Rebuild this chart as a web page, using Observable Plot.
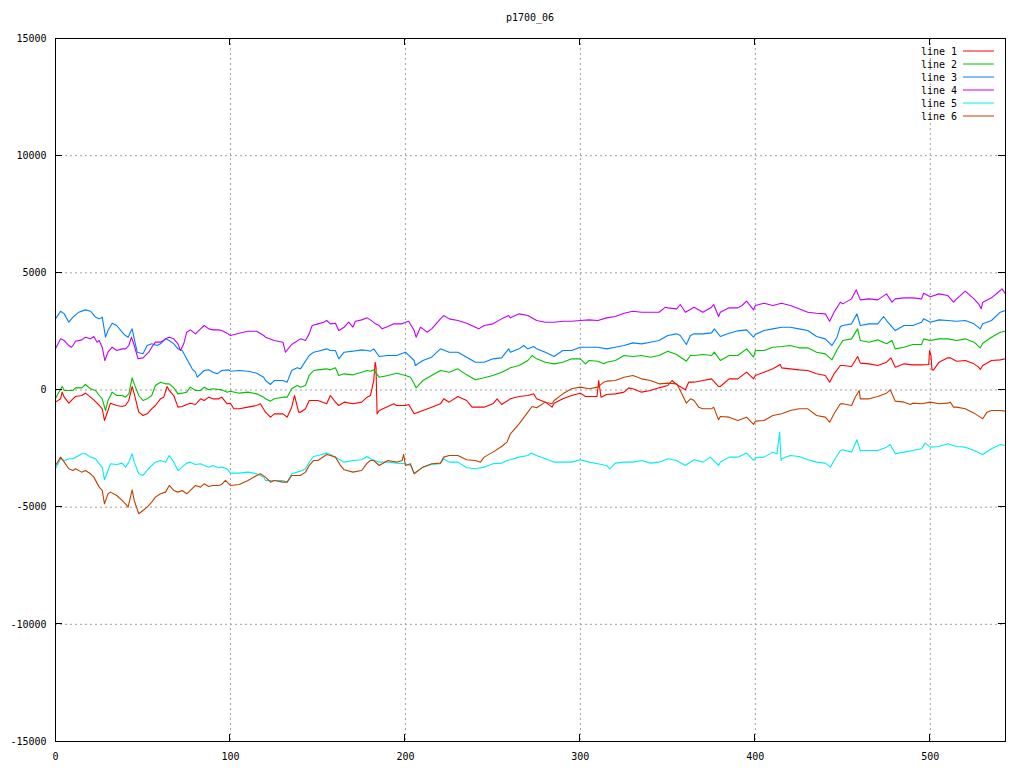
<!DOCTYPE html>
<html>
<head>
<meta charset="utf-8">
<script src="https://cdn.jsdelivr.net/npm/d3@7"></script>
<script src="https://cdn.jsdelivr.net/npm/@observablehq/plot@0.6"></script>
<style>
  html, body { margin: 0; padding: 0; background: #fff; }
  #wrap { position: relative; width: 1024px; height: 768px; }
  #title { position: absolute; left: 0; width: 1060px; top: 12px; text-align: center;
           font: 10px "DejaVu Sans Mono", monospace; color: #000; }
  svg { display: block; }
</style>
</head>
<body>
<div id="wrap"><div id="title">p1700_06</div></div>
<script>
const title = "p1700_06";
const seriesNames = ["line 1", "line 2", "line 3", "line 4", "line 5", "line 6"];
const seriesColors = ["#ff0000", "#00c000", "#0080ff", "#c000ff", "#00eeee", "#c04000"];
const xTicks = [0, 100, 200, 300, 400, 500];
const yTicks = [-15000, -10000, -5000, 0, 5000, 10000, 15000];

const line1 = [[0,-519],[2.9,-377],[3.8,-92],[5,-306],[7.6,-562],[10,-377],[11.4,-277],[15,-235],[17.1,-135],[20,-306],[21.9,-419],[25,-661],[26.7,-803],[28,-1301],[30,-875],[31.4,-562],[35,-661],[38.1,-704],[40,-661],[41.9,-448],[43.8,149],[45,-164],[47.6,-946],[50,-1088],[52.4,-1017],[55,-803],[57.1,-661],[60,-377],[61.9,-306],[63.8,149],[65,-21],[67.6,-235],[70,-732],[72.4,-704],[75,-619],[77.1,-562],[80,-619],[82.9,-377],[85,-448],[87.6,-306],[90,-377],[93.3,-377],[95,-306],[98.1,-590],[100,-562],[101.9,-803],[105,-803],[110,-732],[115,-661],[117.1,-590],[120,-946],[122.9,-1159],[125,-1017],[130,-1017],[132.4,-1159],[135,-732],[136.6,-235],[139,-946],[140,-946],[142.9,-803],[145,-448],[150,-448],[155,-590],[157.1,-235],[160,-519],[161.9,-661],[165,-519],[170,-590],[175,-519],[178.1,-306],[180,-235],[181.9,405],[182.7,1187],[183.2,974],[183.8,-1017],[185,-875],[190,-704],[193.3,-590],[195,-661],[200,-661],[201.9,-619],[205,-1017],[210,-875],[215,-732],[220,-590],[221.9,-377],[225,-519],[230,-277],[235,-448],[238.1,-732],[240,-732],[245,-732],[250,-590],[252.4,-377],[255,-619],[260,-377],[265,-277],[270,-235],[273.3,-164],[275,-377],[280,-519],[283.8,-732],[285,-562],[290,-377],[295,-235],[300,-135],[302.9,-277],[305,-277],[309.5,-277],[310.5,405],[311.8,-306],[315,-192],[320,-164],[325,-92],[327.6,92],[330,50],[335,-92],[340,-21],[345,92],[350,192],[352.4,405],[355,235],[360,7],[361.9,334],[365,334],[370,405],[375,476],[379,149],[380,149],[385,476],[390,476],[395,761],[399,476],[400,619],[405,761],[410,903],[414.3,1088],[415,946],[420,903],[425,860],[430,832],[435,690],[440,619],[442.5,334],[445,690],[448.6,1045],[450,1045],[455,1003],[458.5,1429],[460,1145],[465,1116],[470,1045],[475,1187],[477.5,1372],[480,974],[485,1116],[490,1074],[495,1074],[499.1,1088],[499.6,1685],[500.4,1472],[501,860],[501.9,860],[505,1187],[510,1372],[511.4,1372],[515,1230],[520,1258],[525,1116],[527.6,974],[528.6,875],[530,1045],[535,1258],[540,1287],[543,1330]];

const line2 = [[0,-377],[1.9,-92],[3.8,149],[5,-21],[7.6,-21],[10,-21],[11.4,92],[15,92],[17.1,235],[20,50],[22.9,-21],[25,-235],[26.7,-377],[28.6,-875],[30,-448],[32.4,-92],[35,-235],[38.1,-235],[40,-306],[41.9,-164],[43.8,519],[45,263],[47.6,-235],[50,-448],[52.4,-377],[55,-235],[57.1,192],[60,334],[62.9,263],[65,263],[67.6,92],[70,-164],[72.4,-135],[75,-92],[77.1,121],[80,-21],[82.9,-21],[85,121],[87.6,7],[90,50],[95,7],[98.1,-92],[100,-50],[105,-135],[110,-92],[115,-164],[119,-306],[120,-377],[122.9,-476],[125,-377],[130,-306],[132.4,-306],[135,50],[138.1,192],[140,121],[142.9,192],[145,619],[147.6,832],[150,860],[155,903],[157.1,860],[160,946],[161.9,619],[165,690],[170,647],[175,761],[178.1,832],[180,803],[181.9,860],[185,547],[190,619],[195,718],[200,619],[202.9,547],[205,263],[206.1,92],[210,405],[215,619],[220,832],[225,761],[230,903],[235,647],[240,434],[245,519],[250,619],[255,761],[260,946],[265,1045],[270,1258],[272.4,1472],[275,1330],[280,1187],[285,1116],[290,1187],[295,1330],[300,1330],[302.9,1116],[305,1258],[310,1230],[313.3,1116],[315,1187],[320,1258],[325,1472],[330,1429],[335,1472],[340,1401],[345,1472],[350,1657],[355,1514],[360.6,1230],[362.9,1472],[365,1472],[370,1514],[375,1472],[376.6,1614],[380,1258],[385,1472],[390,1472],[395,1756],[399,1401],[400,1685],[405,1685],[410,1827],[415,1856],[420,1898],[425,1799],[430,1799],[435,1614],[440,1543],[443.8,1287],[446.7,1714],[450,2112],[455,2183],[458.5,2609],[460,2112],[465,2041],[470,2140],[475,1970],[478.1,2112],[480,1756],[485,1827],[490,1941],[495,1941],[496.2,2183],[500,2112],[505,2183],[510,2183],[515,2112],[520,2183],[525,2041],[528.6,1799],[530,1998],[535,2254],[540,2467],[543,2510]];

const line3 = [[0,3036],[2.9,3363],[5,3249],[7.6,2894],[10,3107],[13.3,3320],[17.1,3420],[20,3363],[22.9,3107],[25,3036],[26.7,3107],[28.6,2254],[30,2538],[32.4,2851],[35,2752],[38.1,2467],[40,2325],[41.5,2254],[43.8,2609],[45,2183],[46.7,1614],[50,1543],[52.4,1898],[55,1970],[58.1,1898],[60,1970],[62.9,2183],[65,2112],[67.6,1970],[70,1756],[72.4,1685],[75,1330],[78.1,903],[80,761],[81,547],[85,832],[87.6,860],[90,761],[92.4,690],[95,832],[99,860],[100,803],[105,832],[110,803],[115,718],[119,547],[120,405],[122.9,235],[125,405],[130,405],[132.4,334],[135,832],[138.1,946],[140,903],[145,1472],[147.6,1614],[150,1657],[155,1756],[157.1,1685],[160,1685],[161.9,1330],[165,1614],[170,1657],[175,1714],[178.1,1685],[180,1657],[181.9,1756],[185,1429],[190,1472],[195,1472],[200,1614],[205,1258],[205.7,1045],[210,1258],[215,1401],[220,1756],[225,1614],[230,1614],[235,1401],[240,1187],[245,1187],[250,1330],[255,1372],[259,1756],[260,1614],[265,1756],[267.6,1898],[270,1756],[273.3,1856],[275,1756],[280,1614],[285,1429],[290,1685],[295,1685],[300,1827],[305,1827],[310,1827],[315,1756],[320,1827],[325,1898],[330,2012],[335,1970],[340,2041],[345,2112],[350,2325],[355,2396],[357.1,2325],[360.6,1941],[362.9,2325],[365,2396],[370,2396],[375,2439],[376.6,2610],[380,2282],[385,2425],[390,2525],[395,2567],[399,2254],[400,2368],[405,2538],[410,2609],[415,2680],[420,2680],[425,2609],[430,2538],[435,2282],[440,2183],[443.8,1898],[446.7,2254],[448.6,2709],[450,2752],[455,2823],[458.1,3249],[460,2752],[465,2823],[470,2823],[473.3,3136],[475,2965],[480,2538],[485,2752],[490,2752],[495,2894],[496.2,3036],[500,2894],[505,2993],[510,2965],[515,2936],[520,2965],[525,2823],[528.6,2609],[530,2823],[535,2965],[540,3320],[543,3392]];

const line4 = [[0,1756],[2.9,2183],[5,2112],[7.6,1898],[9.1,1827],[10,1898],[11.4,2083],[15,2140],[17.1,2254],[20,2183],[21.9,2282],[23.8,2041],[25,2112],[26.7,1827],[28.2,1258],[30,1614],[32.4,1827],[35,1685],[38.1,1756],[40,1756],[41.9,1898],[43.4,2254],[45,1898],[47.2,1330],[50,1372],[53.3,1614],[55,1827],[57.1,2041],[60,2041],[62.9,2183],[65,2254],[67.6,2183],[70,1970],[71.4,1685],[73.3,1970],[75,2467],[77.1,2567],[80,2396],[82.9,2609],[85,2752],[87.6,2609],[90,2567],[93.3,2567],[95,2538],[98.1,2425],[100,2325],[105,2425],[110,2510],[115,2510],[119,2325],[120,2254],[125,2112],[130,2041],[131.4,1614],[135,1941],[140,2183],[142.9,2112],[145,2396],[146.7,2752],[150,2823],[153.3,2894],[155,2965],[157.1,2823],[160,2851],[161.9,2538],[165,2680],[167.6,2894],[170,2680],[171.4,2936],[175,2993],[178.1,3079],[180,2993],[182.9,2823],[185,2752],[186.7,2609],[190,2709],[193.3,2823],[195,2823],[198.1,2823],[200,2894],[201.9,2936],[205,2538],[206.1,2254],[208.6,2680],[210,2609],[212.4,2467],[215,2609],[220,3036],[221.9,3178],[225,3036],[230,2965],[235,2851],[240,2680],[241.9,2609],[245,2752],[250,2823],[255,3036],[259,3178],[260,3079],[265,3249],[270,3178],[275,2965],[280,2894],[285,2894],[290,2936],[295,2936],[300,2965],[305,2993],[310,2965],[315,3079],[320,3136],[325,3278],[330,3363],[335,3320],[340,3320],[345,3320],[348.6,3534],[350,3505],[355,3463],[357.1,3648],[360,3320],[365,3534],[370,3320],[375,3534],[376.2,3648],[379,3136],[380,3320],[385,3505],[390,3505],[392.4,3605],[395,3790],[399,3420],[400,3605],[405,3704],[410,3605],[415,3704],[420,3605],[425,3463],[430,3320],[435,3278],[440,3249],[442.5,2936],[445,3320],[448.6,3747],[450,3676],[455,3889],[457.7,4273],[460,3847],[465,3889],[470,3847],[475,4102],[478.1,3747],[480,3889],[485,3932],[490,3932],[495,3889],[496.2,4131],[500,3975],[505,4102],[510,4031],[513.3,3747],[515,3889],[520,4216],[525,3889],[527.6,3676],[529.1,3463],[530,3747],[535,3932],[540,4245],[541,4316],[543,4102]];

const line5 = [[0,-3363],[2.9,-2936],[5,-3008],[7.6,-2936],[10,-2936],[13.3,-2794],[15,-2723],[17.1,-2723],[20,-2865],[22.9,-2936],[25,-3150],[26.7,-3292],[28,-3832],[30,-3434],[31.4,-3150],[35,-3178],[38.1,-3121],[40,-3292],[41.9,-3079],[43.8,-2723],[45,-3079],[47.6,-3576],[50,-3647],[52.4,-3434],[55,-3221],[57.1,-3079],[60,-3008],[62.9,-3079],[65,-2794],[67.6,-3079],[70,-3434],[72.4,-3292],[75,-3121],[77.1,-3079],[80,-3178],[82.9,-3150],[85,-3221],[87.6,-3292],[90,-3221],[93.3,-3320],[95,-3292],[98.1,-3363],[100,-3548],[105,-3548],[110,-3505],[115,-3576],[119,-3718],[120,-3860],[125,-3860],[130,-3860],[132.4,-3932],[135,-3576],[140,-3462],[142.9,-3363],[145,-3079],[147.6,-2837],[150,-2794],[155,-2694],[157.1,-2751],[160,-2865],[165,-3079],[170,-3008],[175,-2979],[178.1,-2837],[180,-2936],[185,-3079],[190,-3079],[195,-3121],[200,-3150],[202.9,-3221],[205,-3548],[210,-3292],[215,-3178],[220,-3150],[221.9,-2936],[225,-3079],[230,-3079],[235,-3320],[240,-3363],[245,-3292],[250,-3150],[255,-3121],[258.1,-3008],[260,-2979],[265,-2865],[270,-2794],[271.8,-2694],[275,-2794],[280,-2936],[285,-3079],[290,-3079],[295,-3079],[300,-2979],[305,-3079],[310,-3150],[315,-3221],[316.8,-3363],[320,-3121],[325,-3079],[330,-3079],[335,-3008],[340,-3121],[345,-3079],[350,-2936],[355,-3008],[360,-3221],[365,-2979],[370,-3079],[374.3,-2865],[379,-3221],[380,-3079],[385,-2865],[390,-2865],[395,-2690],[399,-3008],[400,-2894],[405,-2865],[410,-2652],[412.4,-2723],[413.9,-1799],[414.7,-3008],[415,-2936],[420,-2794],[425,-2837],[430,-2979],[435,-3079],[440,-3121],[442.9,-3292],[445,-3008],[448.6,-2581],[450,-2553],[455,-2652],[458.1,-2126],[460,-2581],[465,-2581],[470,-2581],[475,-2439],[477.1,-2325],[480,-2723],[485,-2652],[490,-2581],[495,-2510],[497.1,-2268],[500,-2439],[505,-2411],[510,-2297],[515,-2411],[520,-2439],[525,-2581],[530,-2751],[535,-2510],[540,-2325],[543,-2368]];

const line6 = [[0,-3221],[2.9,-2865],[5,-3079],[7.6,-3363],[10,-3434],[11.4,-3363],[15,-3505],[17.1,-3434],[20,-3576],[21.9,-3718],[25,-4145],[26.7,-4287],[28,-4856],[30,-4430],[31.4,-4358],[35,-4501],[38.1,-4714],[40,-4856],[41.5,-4998],[43.8,-4259],[45,-4714],[47.6,-5282],[50,-5140],[52.4,-4998],[55,-4785],[57.1,-4572],[60,-4430],[62.9,-4358],[65,-4074],[67.6,-4287],[70,-4358],[72.4,-4287],[75,-4430],[77.1,-4287],[80,-4074],[82.9,-4145],[85,-4003],[87.6,-4117],[90,-4074],[93.3,-4074],[95,-4031],[97.1,-3860],[100,-4074],[105,-4031],[110,-3860],[115,-3647],[117.1,-3576],[120,-3718],[122.9,-3932],[125,-3860],[130,-3932],[132.4,-3932],[135,-3647],[140,-3647],[142.9,-3505],[145,-3221],[147.6,-3008],[150,-3008],[155,-2751],[157.1,-2794],[160,-2865],[162.9,-3221],[165,-3405],[170,-3505],[175,-3434],[178.1,-3121],[180,-3008],[181.9,-3008],[185,-3221],[190,-3008],[195,-3079],[198.1,-3008],[199,-2751],[200,-3221],[202.9,-3150],[205,-3576],[210,-3292],[215,-3150],[220,-3121],[221.9,-2865],[225,-2794],[230,-2794],[235,-2979],[240,-3008],[242.9,-3079],[245,-2865],[250,-2652],[255,-2411],[258.1,-2226],[260,-1870],[265,-1443],[270,-945],[272.4,-704],[275,-761],[280,-519],[283.8,-590],[285,-448],[290,-164],[295,50],[300,121],[305,50],[310,121],[313.3,334],[315,377],[320,405],[325,547],[330,619],[335,476],[340,405],[345,263],[350,292],[355,263],[357.1,-21],[360.6,-562],[362.9,-377],[365,-448],[367.6,-732],[370,-803],[375,-803],[376.2,-732],[379,-1273],[380,-1131],[385,-1159],[390,-1301],[395,-1159],[399,-1472],[400,-1330],[405,-1301],[410,-1088],[415,-1017],[420,-875],[425,-803],[430,-803],[435,-1088],[440,-1159],[442.5,-1372],[445,-1017],[448.6,-590],[450,-590],[455,-661],[457.1,-306],[459.4,-21],[460,-377],[465,-377],[470,-277],[475,-135],[477.1,7],[480,-476],[485,-519],[488.6,-619],[490,-562],[495,-590],[500,-519],[505,-590],[510,-562],[511.4,-519],[513.3,-732],[515,-732],[520,-803],[525,-988],[528.6,-1159],[530,-1229],[532.4,-946],[535,-875],[540,-875],[543,-903]];

const allSeries = [line1, line2, line3, line4, line5, line6];
const data = allSeries.flatMap((arr, i) => arr.map(([x, y]) => ({x, y, s: seriesNames[i]})));

const FONT = '"DejaVu Sans Mono", monospace';
const plot = Plot.plot({
  width: 1024,
  height: 768,
  marginLeft: 55,
  marginRight: 19,
  marginTop: 38,
  marginBottom: 27,
  style: {fontFamily: FONT, fontSize: "10px", background: "#fff", color: "#000"},
  x: {domain: [0, 543], ticks: xTicks, tickSize: 0, tickPadding: 11, label: null, tickFormat: d => String(d)},
  y: {domain: [-15000, 15000], ticks: yTicks, tickSize: 0, tickPadding: 9, label: null, tickFormat: d => String(d)},
  color: {domain: seriesNames, range: seriesColors},
  marks: [
    Plot.gridX(xTicks, {stroke: "#a0a0a0", strokeOpacity: 1, strokeDasharray: "2,3"}),
    Plot.gridY(yTicks, {stroke: "#a0a0a0", strokeOpacity: 1, strokeDasharray: "2,3"}),
    Plot.line(data, {x: "x", y: "y", z: "s", stroke: "s", strokeWidth: 1.1, curve: "linear"}),
    Plot.frame({stroke: "#000", strokeWidth: 1})
  ]
});

const svg = d3.select(plot);
const xs = plot.scale("x"), ys = plot.scale("y");
const L = 55, R = 1024 - 19, T = 38, B = 768 - 27, TK = 7;
const g = svg.append("g").attr("stroke", "#000").attr("stroke-width", 1).attr("shape-rendering", "crispEdges");
for (const v of xTicks) {
  const px = xs.apply(v);
  g.append("line").attr("x1", px).attr("x2", px).attr("y1", B).attr("y2", B - TK);
  g.append("line").attr("x1", px).attr("x2", px).attr("y1", T).attr("y2", T + TK);
}
for (const v of yTicks) {
  const py = ys.apply(v);
  g.append("line").attr("y1", py).attr("y2", py).attr("x1", L).attr("x2", L + TK);
  g.append("line").attr("y1", py).attr("y2", py).attr("x1", R).attr("x2", R - TK);
}
// legend (top-right, inside plot)
const lg = svg.append("g").attr("font-family", FONT).attr("font-size", "10px");
seriesNames.forEach((name, i) => {
  const yy = 51 + i * 13;
  lg.append("text").attr("x", 957).attr("y", yy).attr("dy", "0.35em").attr("text-anchor", "end").attr("fill", "#000").text(name);
  lg.append("line").attr("x1", 963).attr("x2", 994).attr("y1", yy).attr("y2", yy).attr("stroke", seriesColors[i]).attr("stroke-width", 1);
});

document.getElementById("wrap").appendChild(plot);
document.getElementById("title").textContent = title;
</script>
</body>
</html>
